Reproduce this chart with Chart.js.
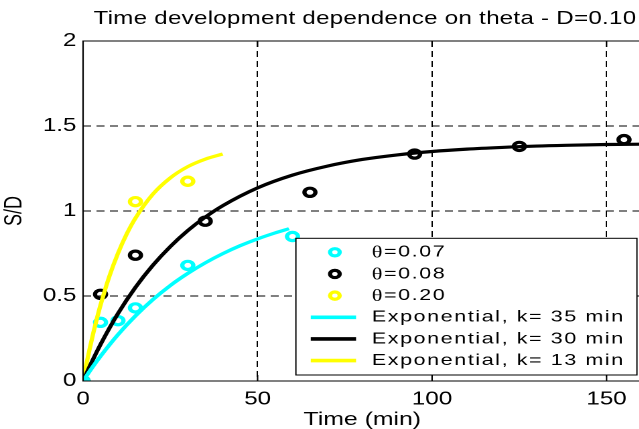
<!DOCTYPE html>
<html>
<head>
<meta charset="utf-8">
<script src="https://cdn.jsdelivr.net/npm/chart.js@4.4.1/dist/chart.umd.min.js"></script>
<style>
html, body { margin: 0; padding: 0; overflow: hidden; background: #fff; width: 639px; height: 429px; }
#wrap { position: relative; width: 639px; height: 429px; overflow: hidden; }
#c { position: absolute; left: 0; top: 0; transform-origin: 0 0; transform: scaleX(1.34); }
</style>
</head>
<body>
<div id="wrap"><canvas id="c" width="486" height="429"></canvas></div>
<script>
// ---- data ----
const titleText = 'Time development dependence on theta - D=0.10';
const xLabel = 'Time (min)';
const yLabel = 'S/D';
const xTicks = [0, 50, 100, 150];
const yTicks = [0, 0.5, 1, 1.5, 2];

// measured points
const t007 = [0, 5, 10, 15, 30, 60];
const s007 = [0, 0.345, 0.355, 0.43, 0.68, 0.85];
const t008 = [0, 5, 15, 35, 65, 95, 125, 155];
const s008 = [0, 0.51, 0.74, 0.94, 1.11, 1.335, 1.38, 1.42];
const t020 = [0, 15, 30];
const s020 = [0, 1.055, 1.175];

// fitted curves
const tFit35 = [0, 2.5, 5, 10, 15, 20, 25, 30, 35, 40, 45, 50, 55, 59];
const sFit35 = [0, 0.076, 0.146, 0.273, 0.383, 0.479, 0.562, 0.633, 0.695, 0.749, 0.796, 0.836, 0.871, 0.896];
const tFit30 = [0, 2.5, 5, 10, 15, 20, 25, 30, 35, 40, 50, 60, 70, 80, 90, 100, 110, 120, 130, 140, 150, 160];
const sFit30 = [0, 0.112, 0.215, 0.397, 0.551, 0.681, 0.791, 0.885, 0.964, 1.031, 1.136, 1.211, 1.264, 1.303, 1.330, 1.350, 1.364, 1.374, 1.382, 1.387, 1.391, 1.393];
const tFit13 = [0, 1, 2, 3, 4, 5, 7.5, 10, 12.5, 15, 20, 25, 30, 35, 40];
const sFit13 = [0, 0.104, 0.200, 0.289, 0.371, 0.447, 0.614, 0.751, 0.865, 0.958, 1.099, 1.195, 1.261, 1.305, 1.335];

const labels = ['θ=0.07', 'θ=0.08', 'θ=0.20', 'Exponential, k= 35 min', 'Exponential, k= 30 min', 'Exponential, k= 13 min'];
const colors = ['#00FFFF', '#000000', '#FFFF00', '#00FFFF', '#000000', '#FFFF00'];

const pts = (xs, ys) => xs.map((x, i) => ({x: x, y: ys[i]}));

const FONT = "'Liberation Sans', Arial, Helvetica, sans-serif";

function pointDs(i, xs, ys) {
  return {
    type: 'scatter', label: labels[i], data: pts(xs, ys), order: 2,
    showLine: false, pointStyle: 'circle', pointRadius: 4.1, pointHoverRadius: 4.1,
    borderColor: colors[i], backgroundColor: 'rgba(0,0,0,0)', pointBorderWidth: 3.2, kind: 'point'
  };
}
function lineDs(i, xs, ys) {
  return {
    type: 'line', label: labels[i], data: pts(xs, ys), order: 1,
    showLine: true, pointRadius: 0, borderColor: colors[i], borderWidth: 3.2,
    cubicInterpolationMode: 'monotone', fill: false, kind: 'line'
  };
}

const framePlugin = {
  id: 'frame',
  afterDatasetsDraw(chart) {
    const {ctx, chartArea: a, scales} = chart;
    ctx.save();
    ctx.strokeStyle = '#000'; ctx.lineWidth = 1.1; ctx.setLineDash([]);
    ctx.beginPath();
    ctx.moveTo(a.right + 2, a.top); ctx.lineTo(a.left, a.top);
    ctx.lineTo(a.left, a.bottom); ctx.lineTo(a.right + 2, a.bottom);
    scales.x.ticks.forEach(t => {
      const px = scales.x.getPixelForValue(t.value);
      ctx.moveTo(px, a.top); ctx.lineTo(px, a.top + 6);
      ctx.moveTo(px, a.bottom); ctx.lineTo(px, a.bottom - 6);
    });
    scales.y.ticks.forEach(t => {
      const py = scales.y.getPixelForValue(t.value);
      ctx.moveTo(a.left, py); ctx.lineTo(a.left + 4.5, py);
    });
    ctx.stroke();
    ctx.restore();
  }
};

const titlePlugin = {
  id: 'topTitle',
  afterDraw(chart) {
    const {ctx, scales} = chart;
    const cx = (scales.x.getPixelForValue(0) + scales.x.getPixelForValue(160)) / 2 + 2;
    ctx.save();
    ctx.font = '18px ' + FONT;
    ctx.letterSpacing = '0.2px';
    ctx.fillStyle = '#000';
    ctx.textAlign = 'center';
    ctx.textBaseline = 'alphabetic';
    ctx.fillText(titleText, cx, 24);
    ctx.restore();
  }
};

const legendPlugin = {
  id: 'customLegend',
  afterDraw(chart) {
    const {ctx, chartArea: a} = chart;
    const right = a.right - 3.4, bottom = a.bottom - 6;
    const w = 254.5, h = 136.7;
    const left = right - w, top = bottom - h;
    ctx.save();
    ctx.fillStyle = '#fff';
    ctx.fillRect(left, top, w, h);
    ctx.strokeStyle = '#000'; ctx.lineWidth = 1; ctx.setLineDash([]);
    ctx.strokeRect(left, top, w, h);
    ctx.textBaseline = 'middle';
    chart.data.datasets.forEach((ds, i) => {
      const y = top + 14 + i * 21.66;
      ctx.beginPath();
      ctx.strokeStyle = ds.borderColor;
      if (ds.kind === 'point') {
        ctx.lineWidth = 3.2;
        ctx.arc(left + 29.1, y, 3.6, 0, Math.PI * 2);
      } else {
        ctx.lineWidth = 3.6;
        ctx.moveTo(left + 11.1, y); ctx.lineTo(left + 44.9, y);
      }
      ctx.stroke();
      ctx.fillStyle = '#000';
      ctx.letterSpacing = '1.2px';
      const lab = ds.label;
      let x = left + 56.7;
      if (lab.startsWith('θ')) {
        ctx.font = '16.5px "Liberation Serif", serif';
        ctx.fillText('θ', x, y + 1);
        x += ctx.measureText('θ').width;
        ctx.font = '16px ' + FONT;
        ctx.fillText(lab.slice(1), x, y);
      } else {
        ctx.font = '16px ' + FONT;
        ctx.fillText(lab, x, y);
      }
    });
    ctx.restore();
  }
};

new Chart(document.getElementById('c'), {
  data: {
    datasets: [
      pointDs(0, t007, s007),
      pointDs(1, t008, s008),
      pointDs(2, t020, s020),
      lineDs(3, tFit35, sFit35),
      lineDs(4, tFit30, sFit30),
      lineDs(5, tFit13, sFit13)
    ]
  },
  options: {
    responsive: false,
    animation: false,
    devicePixelRatio: 2,
    layout: { padding: { top: 41, left: 0, right: 0, bottom: 0 } },
    plugins: {
      legend: { display: false },
      tooltip: { enabled: false },
      title: { display: false }
    },
    scales: {
      x: {
        type: 'linear', min: 0, max: 160,
        afterFit(s) { s.height = 48; },
        afterBuildTicks(s) { s.ticks = xTicks.map(v => ({value: v})); },
        ticks: { color: '#000', font: { family: FONT, size: 18 }, padding: 7.5, maxRotation: 0, includeBounds: false },
        grid: {
          drawTicks: false,
          color: c => (c.tick && c.tick.value > 0 && c.tick.value < 160) ? '#000' : 'rgba(0,0,0,0)',
          lineWidth: 1
        },
        border: { display: false, dash: [6, 4] },
        title: { display: true, text: xLabel, color: '#000', font: { family: FONT, size: 18.5 }, padding: { top: 0, bottom: -2 } }
      },
      y: {
        type: 'linear', min: 0, max: 2,
        afterFit(s) { s.width = 62; },
        afterBuildTicks(s) { s.ticks = yTicks.map(v => ({value: v})); },
        ticks: { color: '#000', font: { family: FONT, size: 18 }, padding: 5, callback: v => String(v) },
        grid: {
          drawTicks: false,
          color: c => (c.tick && c.tick.value > 0 && c.tick.value < 2) ? '#000' : 'rgba(0,0,0,0)',
          lineWidth: 1
        },
        border: { display: false, dash: [6, 4] },
        title: { display: true, text: yLabel, color: '#000', font: { family: FONT, size: 18 }, padding: { top: 0.2, bottom: 0 } }
      }
    }
  },
  plugins: [framePlugin, titlePlugin, legendPlugin]
});
</script>
</body>
</html>
